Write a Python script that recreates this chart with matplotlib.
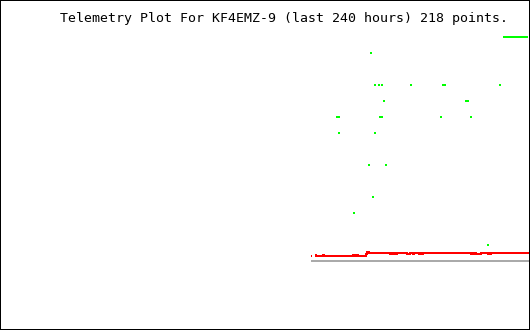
import numpy as np
import matplotlib
matplotlib.use("Agg")
import matplotlib.pyplot as plt

# telemetry of KF4EMZ-9, x = hours into the 240 hour window
title = "Telemetry Plot For KF4EMZ-9 (last 240 hours) 218 points."

# channel 1 (green), sparse readings
green_hours = [152.4, 153.3, 153.7, 160.1, 166.9, 168.2, 169.1, 169.6, 170.0,
               171.4, 172.3, 172.8, 173.2, 173.7, 175.0, 186.3, 199.5, 200.4,
               201.3, 211.2, 212.1, 213.1, 220.8, 226.6]
green_vals = [9, 9, 8, 3, 6, 13, 4, 8, 11,
              11, 9, 11, 9, 10, 6, 11, 9, 11,
              11, 10, 10, 9, 1, 11]

# channel 2 (red), held values between change points (nan = no data)
red_hours = [140.8, 141.3, 142.6, 143.1, 146.3, 146.7, 159.9, 160.3, 161.2,
             162.1, 165.7, 166.2, 167.1, 176.6, 177.5, 178.0, 178.4, 179.3,
             179.8, 184.3, 185.7, 187.0, 187.5, 189.7, 190.2, 191.1, 191.5,
             213.3, 213.7, 214.6, 215.1, 215.5, 217.8, 221.0, 221.4, 221.9,
             222.3, 239.5]
red_vals = [0.31, np.nan, 0.38, 0.31, 0.38, 0.31, 0.38, 0.31, 0.38,
            0.31, 0.44, 0.56, 0.50, 0.44, 0.50, 0.44, 0.50, 0.44,
            0.50, 0.44, 0.50, 0.44, 0.50, 0.44, 0.50, 0.44, 0.50,
            0.44, 0.50, 0.44, 0.50, 0.44, 0.50, 0.44, 0.50, 0.44,
            0.50, 0.50]

# channel 3 (gray), flat zero
gray_hours = [140.8, 239.5]
gray_vals = [0, 0]

fig = plt.figure(figsize=(5.3, 3.3), dpi=100)
ax = fig.add_axes([0, 0, 1, 1])
ax.set_xlim(0, 240)
ax.set_ylim(-4.3125, 16.3125)

px = 72 / 100  # one pixel in points
ax.plot(gray_hours, gray_vals, color="#aaaaaa", lw=2 * px,
        solid_capstyle="butt", antialiased=False)
ax.step(red_hours, red_vals, where="post", color="#ff0000", lw=2 * px,
        solid_capstyle="butt", antialiased=False)
tick = [(-0.5, -1), (0.5, -1), (0.5, 1), (-0.5, 1)]
ax.plot(green_hours, green_vals, ls="none", marker=tick, ms=2.4 * px,
        mew=0, color="#00ff00", antialiased=False)

# key sample line and title
ax.plot([0.949, 0.997], [0.887, 0.887], transform=ax.transAxes,
        color="#00ff00", lw=2 * px, solid_capstyle="butt", antialiased=False)
ax.text(0.114, 0.932, title, transform=ax.transAxes, ha="left",
        va="baseline", family="DejaVu Sans Mono", fontsize=9.5)

ax.set_xticks([])
ax.set_yticks([])
for s in ax.spines.values():
    s.set_linewidth(2 * px)
    s.set_color("black")

fig.savefig("out.png", dpi=100)
